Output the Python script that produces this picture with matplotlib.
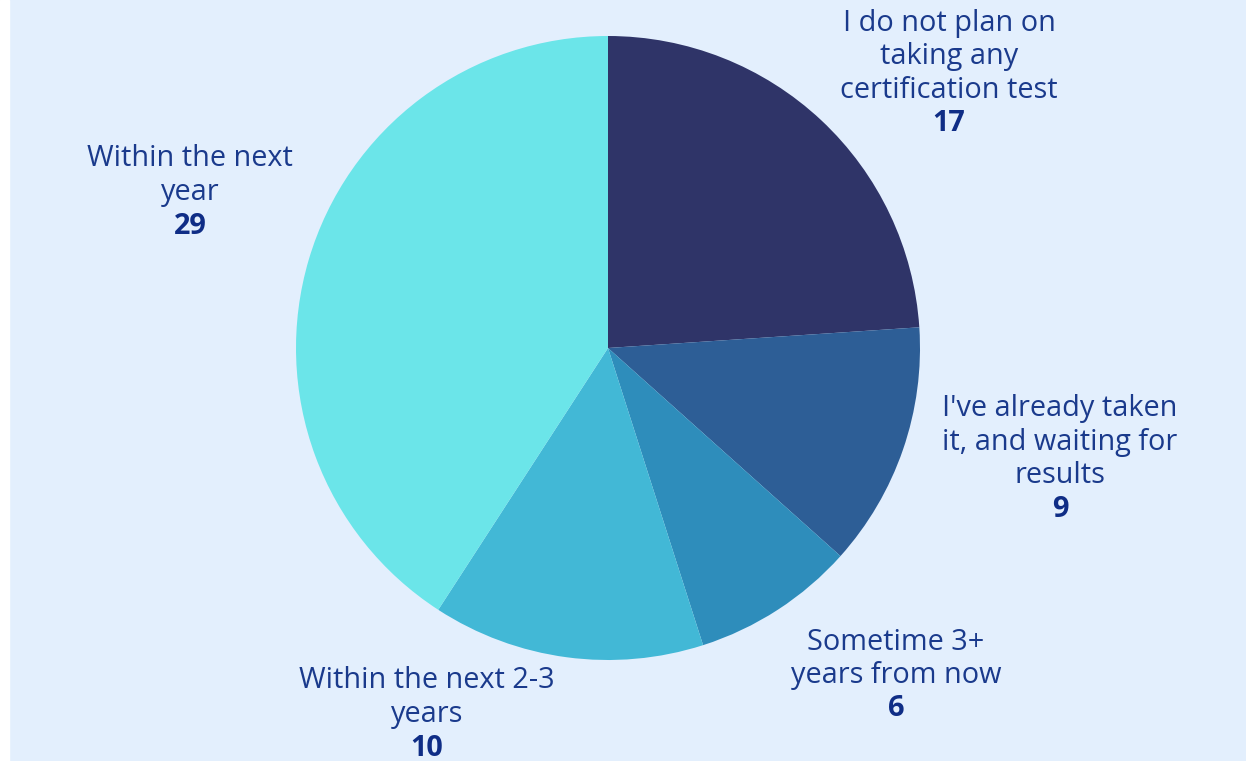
import matplotlib.pyplot as plt

# data
labels = ["I do not plan on\ntaking any\ncertification test",
          "I've already taken\nit, and waiting for\nresults",
          "Sometime 3+\nyears from now",
          "Within the next 2-3\nyears",
          "Within the next\nyear"]
values = [17, 9, 6, 10, 29]
colors = ["#2f3468", "#2d5e96", "#2e8dbb", "#42b8d6", "#6be5e9"]

# label anchor (pixel x centre, pixel y of first line from top)
label_pos = [(949, 23), (1060, 409), (896, 642), (427, 681), (190, 159)]

W, H = 1246, 761
bg = "#e3effd"
txt = "#1a3a8c"

fig = plt.figure(figsize=(W / 100, H / 100), dpi=100, facecolor=bg)
# white strip on the left
fig.patches.append(plt.Rectangle((0, 0), 9 / W, 1, transform=fig.transFigure,
                                 color="white", zorder=0))

cx, cy, r = 608, 348, 312
ax = fig.add_axes([(cx - r) / W, (H - cy - r) / H, 2 * r / W, 2 * r / H])
ax.pie(values, colors=colors, startangle=90, counterclock=False, radius=1,
       wedgeprops=dict(linewidth=0))
ax.set_xlim(-1, 1)
ax.set_ylim(-1, 1)
ax.set_aspect("equal")
ax.axis("off")

step = 33.5
for lab, val, (px, py) in zip(labels, values, label_pos):
    lines = lab.split("\n")
    for i, line in enumerate(lines):
        fig.text(px / W, 1 - (py + i * step) / H, line, ha="center", va="center",
                 fontsize=20.8, family="Open Sans", color=txt)
    fig.text(px / W, 1 - (py + len(lines) * step) / H, str(val), ha="center",
             va="center", fontsize=20.8, family="Open Sans", fontweight="bold",
             color="#0f2d86")

fig.savefig("out.png", dpi=100, facecolor=bg)
